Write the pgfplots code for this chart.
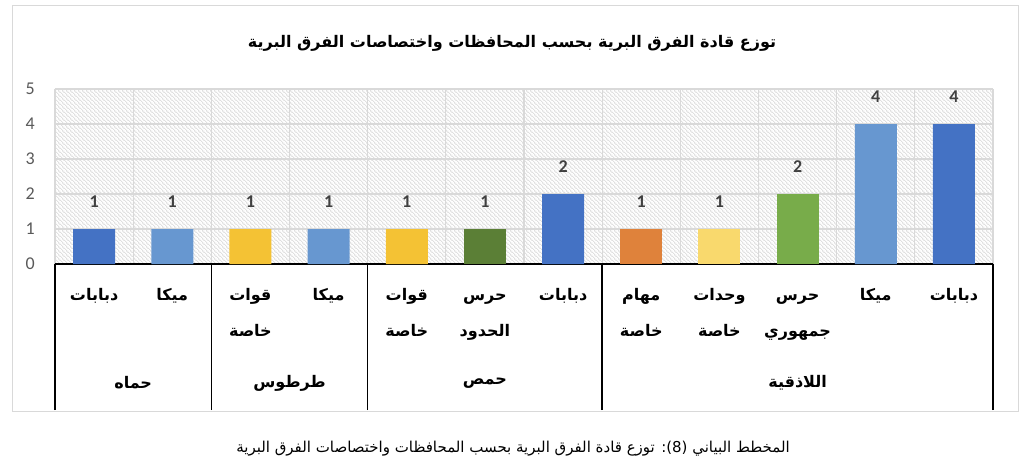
\documentclass[border=0pt]{standalone}
\usepackage{fontspec}
\usepackage{pgfplots}
\pgfplotsset{compat=1.18}
\usetikzlibrary{patterns.meta}
\TeXXeTstate=1
\setmainfont{Carlito}
\newfontfamily\arfont[Script=Arabic]{DejaVu Sans}
\newcommand\AR[1]{\beginR#1\endR}
\newcommand\FL[1]{\rule{0pt}{15bp}\AR{#1}}
\definecolor{cblue}{HTML}{4472C4}
\definecolor{clblue}{HTML}{6797D0}
\definecolor{cgold}{HTML}{F4C234}
\definecolor{cdgreen}{HTML}{5B7F36}
\definecolor{corange}{HTML}{DF823B}
\definecolor{clyellow}{HTML}{F9D96D}
\definecolor{cgreen}{HTML}{78AC4A}
\definecolor{gridc}{HTML}{D9D9D9}
\definecolor{tickc}{HTML}{595959}
\definecolor{valc}{HTML}{404040}
\tikzdeclarepattern{
  name=hatch,
  type=uncolored,
  bounding box={(0bp,0bp) and (4bp,4bp)},
  tile size={(4bp,4bp)},
  code={
    \draw[line width=0.7bp] (0bp,4bp) -- (4bp,0bp);
    \draw[line width=0.7bp] (-1bp,1bp) -- (1bp,-1bp);
    \draw[line width=0.7bp] (3bp,5bp) -- (5bp,3bp);
  }
}
\begin{document}
\begin{tikzpicture}
\path[use as bounding box] (0,0) rectangle (1024bp,471bp);
\draw[gridc, line width=1bp] (12bp,59bp) rectangle (1018bp,465bp);
\node[font={\fontsize{16bp}{20bp}\selectfont\arfont\bfseries}] at (512bp,428bp) {\AR{توزع قادة الفرق البرية بحسب المحافظات واختصاصات الفرق البرية}};
\node[font={\fontsize{15bp}{18bp}\selectfont\arfont}] at (513bp,22bp) {\beginR المخطط البياني \beginL(8)\endL: توزع قادة الفرق البرية بحسب المحافظات واختصاصات الفرق البرية\endR};
\begin{axis}[
  at={(55bp,207bp)}, anchor=south west,
  width=938bp, height=175bp, scale only axis,
  xmin=-0.5, xmax=11.5, ymin=0, ymax=5,
  ybar, bar width=42bp,
  axis background/.style={pattern=hatch, pattern color=black!17},
  axis x line*=bottom, axis y line*=left,
  x axis line style={black, line width=1.6bp, -},
  y axis line style={draw=none},
  xtick={0,...,11},
  major tick length=0pt,
  minor xtick={-0.5,0.5,...,11.5},
  minor tick length=0pt,
  xminorgrids, ymajorgrids,
  grid style={gridc, line width=1.3bp},
  minor grid style={gridc, line width=1.3bp},
  ytick={0,...,5},
  /pgf/number format/assume math mode=true,
  yticklabel style={font=\fontsize{18bp}{20bp}\selectfont, text=tickc, inner sep=0pt, anchor=east, xshift=-20bp},
  xticklabels={{\FL{دبابات}},{\FL{ميكا}},{\FL{قوات}\\\AR{خاصة}},{\FL{ميكا}},{\FL{قوات}\\\AR{خاصة}},{\FL{حرس}\\\AR{الحدود}},{\FL{دبابات}},{\FL{مهام}\\\AR{خاصة}},{\FL{وحدات}\\\AR{خاصة}},{\FL{حرس}\\\AR{جمهوري}},{\FL{ميكا}},{\FL{دبابات}}},
  xticklabel style={font={\fontsize{16bp}{36bp}\selectfont\arfont\bfseries}, align=center, anchor=north, inner sep=0pt, yshift=-21bp},
  extra x ticks={-0.5,1.5,3.5,6.5,11.5},
  extra x tick labels={},
  extra x tick style={major tick length=146bp, tick align=outside, xtick pos=bottom, major tick style={black, line width=1.6bp}, grid=none},
  nodes near coords,
  every node near coord/.append style={font=\fontsize{18bp}{20bp}\selectfont\bfseries, text=valc, inner sep=0pt, anchor=south, yshift=21bp},
  clip=false,
]
\addplot[fill=cblue, draw=none, bar shift=0pt] coordinates {(0,1) (6,2) (11,4)};
\addplot[fill=clblue, draw=none, bar shift=0pt] coordinates {(1,1) (3,1) (10,4)};
\addplot[fill=cgold, draw=none, bar shift=0pt] coordinates {(2,1) (4,1)};
\addplot[fill=cdgreen, draw=none, bar shift=0pt] coordinates {(5,1)};
\addplot[fill=corange, draw=none, bar shift=0pt] coordinates {(7,1)};
\addplot[fill=clyellow, draw=none, bar shift=0pt] coordinates {(8,1)};
\addplot[fill=cgreen, draw=none, bar shift=0pt] coordinates {(9,2)};
\node[font={\fontsize{16bp}{20bp}\selectfont\arfont\bfseries}] at (axis cs:0.5,0) [yshift=-119bp] {\AR{حماه}};
\node[font={\fontsize{16bp}{20bp}\selectfont\arfont\bfseries}] at (axis cs:2.5,0) [yshift=-119bp] {\AR{طرطوس}};
\node[font={\fontsize{16bp}{20bp}\selectfont\arfont\bfseries}] at (axis cs:5,0) [yshift=-119bp] {\AR{حمص}};
\node[font={\fontsize{16bp}{20bp}\selectfont\arfont\bfseries}] at (axis cs:9,0) [yshift=-119bp] {\AR{اللاذقية}};
\end{axis}
\end{tikzpicture}
\end{document}
